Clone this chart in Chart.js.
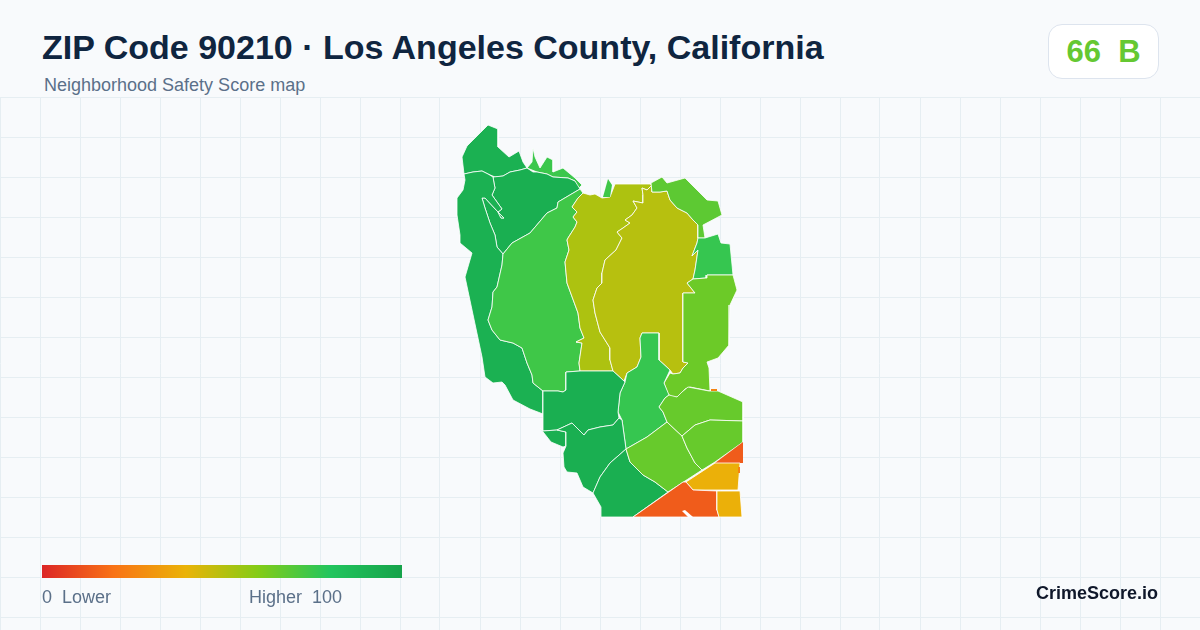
<!DOCTYPE html>
<html>
<head>
<meta charset="utf-8">
<title>ZIP Code 90210</title>
<script src="https://cdn.jsdelivr.net/npm/chart.js@4"></script>
<style>
html, body { margin: 0; padding: 0; }
body { width: 1200px; height: 630px; overflow: hidden; position: relative; background: #f8fafc; font-family: "Liberation Sans", Arial, sans-serif; }
#map-wrap { position: absolute; left: 0; top: 97px; width: 1200px; height: 533px; }
#title { position: absolute; left: 42px; top: 27px; font-size: 34px; line-height: 40px; font-weight: bold; color: #0f2540; white-space: pre; }
#subtitle { position: absolute; left: 44px; top: 75px; font-size: 18px; line-height: 20px; color: #5b7089; white-space: pre; }
#badge { position: absolute; left: 1048px; top: 24px; width: 109px; height: 53px; background: #fff; border: 1px solid #dde4ee; border-radius: 14px; text-align: center; font-size: 31px; line-height: 53px; font-weight: bold; color: #65c832; white-space: pre; }
#legend-bar { position: absolute; left: 42px; top: 565px; width: 360px; height: 13px; }
.legend-label { position: absolute; top: 587px; font-size: 18px; line-height: 20px; color: #5b7089; white-space: pre; }
#brand { position: absolute; right: 42px; top: 583px; font-size: 18px; line-height: 20px; font-weight: bold; color: #0f172a; }
</style>
</head>
<body>
<div id="map-wrap"><canvas id="map" width="1200" height="533"></canvas></div>
<div id="title"></div>
<div id="subtitle"></div>
<div id="badge"></div>
<div id="legend-bar"></div>
<div class="legend-label" id="legend-low" style="left:42px"></div>
<div class="legend-label" id="legend-high" style="left:249px"></div>
<div id="brand"></div>
<script>
const titleText = "ZIP Code 90210 · Los Angeles County, California";
const subtitleText = "Neighborhood Safety Score map";
const badgeText = "66  B";
const lowText = "0  Lower";
const highText = "Higher  100";
const brandText = "CrimeScore.io";

// score colour ramp, same stops as the legend bar
const rampStops = [0, 20, 40, 60, 80, 100];
const rampColors = ["#dc2626", "#f97316", "#eab308", "#84cc16", "#22c55e", "#16a34a"];

const gridX = [];
for (let x = 0; x <= 1200; x += 40) gridX.push(x);
const gridY = [];
for (let y = 97; y <= 630; y += 40) gridY.push(y);

// zone outlines in map units
const northTop = [[488,125],[498,129],[498,147],[509,157],[519,151],[523,162],[527,168],[520,170],[510,172],[503,176],[495,177],[488,174],[482,171],[473,172],[464,174],[462,157],[467,146],[473,140],[488,125]];
const northStrip = [[533,148],[535,157],[540,168],[547,157],[553,160],[553,172],[563,168],[575,178],[582,185],[578,189],[575,181],[568,178],[553,177],[547,174],[537,172],[527,168],[532,162],[533,148]];
const canyonEast = [[493,177],[503,176],[510,172],[520,170],[527,168],[533,172],[537,172],[547,174],[553,177],[568,178],[575,181],[580,189],[558,202],[557,208],[547,213],[530,233],[512,243],[503,254],[497,247],[495,235],[490,223],[485,208],[482,198],[485,198],[498,212],[504,218],[501,218],[498,212],[502,209],[497,202],[492,195],[495,188],[494,183],[493,177]];
const coastWest = [[464,174],[473,172],[482,171],[488,174],[493,177],[494,183],[495,188],[492,195],[497,202],[502,209],[498,212],[501,218],[504,218],[498,212],[485,198],[482,198],[485,208],[490,223],[495,235],[497,247],[503,254],[502,265],[497,287],[493,292],[492,307],[488,320],[492,330],[500,340],[513,343],[522,348],[527,363],[532,375],[533,383],[543,391],[543,414],[530,409],[513,400],[505,385],[502,382],[493,383],[485,377],[482,357],[465,277],[472,253],[460,243],[460,235],[457,215],[457,198],[463,190],[465,180],[464,174]];
const centralWest = [[580,189],[583,193],[578,198],[572,207],[577,212],[573,217],[577,222],[575,227],[568,238],[567,240],[569,250],[565,262],[567,283],[578,313],[580,328],[584,338],[576,342],[582,343],[579,363],[580,371],[566,372],[566,390],[563,392],[558,391],[543,391],[533,383],[532,375],[527,363],[522,348],[513,343],[500,340],[492,330],[488,320],[492,307],[493,292],[497,287],[502,265],[503,254],[512,243],[530,233],[547,213],[557,208],[558,202],[580,189]];
const canyonStrip = [[583,193],[590,195],[595,194],[602,198],[610,197],[615,184],[650,184],[652,185],[647,190],[642,188],[643,195],[643,203],[633,201],[637,208],[632,215],[625,220],[630,223],[623,228],[617,232],[622,238],[616,250],[605,260],[602,273],[602,283],[597,288],[593,300],[595,313],[600,332],[610,348],[610,360],[613,371],[580,371],[579,363],[582,343],[576,342],[584,338],[580,328],[578,313],[567,283],[565,262],[569,250],[567,240],[568,238],[575,227],[577,222],[573,217],[577,212],[572,207],[578,198],[583,193]];
const hillsOlive = [[652,185],[652,192],[660,192],[667,191],[670,200],[677,208],[687,213],[693,220],[698,225],[698,238],[697,243],[692,256],[698,250],[695,270],[693,279],[687,283],[695,293],[683,293],[683,362],[688,363],[683,368],[680,373],[673,374],[670,370],[659,360],[659,333],[642,333],[640,338],[641,357],[637,367],[627,373],[624,381],[613,371],[610,360],[610,348],[600,332],[595,313],[593,300],[597,288],[602,283],[602,273],[605,260],[616,250],[622,238],[617,232],[623,228],[630,223],[625,220],[632,215],[637,208],[633,201],[643,203],[643,195],[642,188],[647,190],[652,185]];
const ridgeNorth = [[651,183],[662,177],[667,183],[685,178],[707,200],[718,201],[722,215],[703,225],[705,238],[698,238],[698,225],[693,220],[687,213],[677,208],[670,200],[667,191],[660,192],[652,192],[651,183]];
const sliverTop = [[603,197],[608,179],[612,185],[610,197],[603,197]];
const ridgeEast = [[698,238],[705,238],[718,234],[721,243],[730,244],[733,275],[707,275],[706,278],[693,279],[695,270],[698,250],[692,256],[697,243],[698,238]];
const flatsEast = [[693,279],[706,278],[707,275],[733,275],[737,290],[730,305],[729,345],[718,358],[707,362],[709,368],[710,391],[690,387],[685,389],[678,397],[672,397],[668,394],[664,383],[670,373],[673,374],[680,373],[683,368],[688,363],[683,362],[683,293],[695,293],[687,283],[693,279]];
const centralTall = [[642,333],[659,333],[659,360],[670,370],[664,383],[669,395],[665,398],[659,407],[663,412],[667,422],[647,437],[626,449],[622,420],[618,412],[620,393],[625,382],[627,373],[637,367],[641,357],[640,338],[642,333]];
const blockMid = [[566,372],[580,371],[613,371],[624,381],[625,382],[620,393],[618,412],[619,418],[613,425],[600,427],[588,430],[584,435],[572,423],[557,430],[543,431],[543,391],[558,391],[563,392],[566,390],[566,372]];
const coastTip = [[540,428],[543,431],[557,430],[566,432],[566,446],[563,447],[551,442],[540,428]];
const coastLower = [[557,430],[572,423],[584,435],[588,430],[600,427],[613,425],[619,418],[622,420],[626,449],[610,463],[600,477],[593,493],[583,487],[577,473],[567,472],[564,467],[563,453],[566,446],[566,432],[557,430]];
const southDark = [[626,449],[630,462],[643,475],[655,482],[668,492],[633,517],[601,517],[601,507],[593,493],[600,477],[610,463],[626,449]];
const southLime = [[626,449],[647,437],[667,422],[682,436],[687,448],[695,463],[702,470],[668,492],[655,482],[643,475],[630,462],[626,449]];
const eastUpper = [[669,395],[677,397],[682,392],[688,387],[709,391],[718,391],[743,402],[743,421],[710,420],[695,425],[682,436],[667,422],[663,412],[659,407],[665,398],[669,395]];
const eastLower = [[682,436],[695,425],[710,420],[743,421],[743,442],[715,462],[702,470],[695,463],[687,448],[682,436]];
const redCorner = [[743,442],[743,463],[715,463],[743,442]];
const yellowBlock = [[715,463],[740,463],[738,490],[693,490],[686,482],[715,463]];
const redLower = [[633,517],[683,482],[686,482],[693,490],[717,491],[717,510],[719,517],[633,517]];
const yellowLower = [[717,491],[740,491],[742,517],[719,517],[717,510],[717,491]];
const redFleck = [[711,389],[717,389],[717,391],[711,391],[711,389]];
const yellowFleck = [[738,467],[740,467],[740,473],[738,473],[738,467]];
const whiteNotch = [[682,511],[685,510],[693,517],[688,517],[682,511]];

const zoneShapes = [northTop, northStrip, canyonEast, coastWest, centralWest, canyonStrip, hillsOlive, ridgeNorth, sliverTop, ridgeEast, flatsEast, centralTall, blockMid, coastTip, coastLower, southDark, southLime, eastUpper, eastLower, redCorner, yellowBlock, redLower, yellowLower, redFleck, yellowFleck];
const zoneScores = [92, 75, 93, 92, 74, 52, 50, 68, 74, 76, 65, 76, 93, 93, 93, 93, 66, 66, 66, 14, 39, 14, 39, 25, 25];

function hexToRgb(hex){
    return [parseInt(hex.slice(1,3),16), parseInt(hex.slice(3,5),16), parseInt(hex.slice(5,7),16)];
}

function scoreColor(score){
    let i = 0;
    while (i < rampStops.length - 2 && score > rampStops[i+1]) i++;
    const t = (score - rampStops[i]) / (rampStops[i+1] - rampStops[i]);
    const a = hexToRgb(rampColors[i]);
    const b = hexToRgb(rampColors[i+1]);
    return `rgb(${a.map((v, k) => Math.round(v + (b[k] - v) * t)).join(",")})`;
}

function toPoints(shape){
    return shape.map(p => ({x: p[0], y: p[1]}));
}

document.getElementById("title").textContent = titleText;
document.getElementById("subtitle").textContent = subtitleText;
document.getElementById("badge").textContent = badgeText;
document.getElementById("legend-low").textContent = lowText;
document.getElementById("legend-high").textContent = highText;
document.getElementById("brand").textContent = brandText;
document.getElementById("legend-bar").style.background =
    "linear-gradient(to right," + rampColors.map((c, i) => c + " " + rampStops[i] + "%").join(",") + ")";

const datasets = zoneShapes.map((shape, i) => ({
    data: toPoints(shape),
    showLine: true,
    fill: "shape",
    tension: 0,
    pointRadius: 0,
    pointHoverRadius: 0,
    backgroundColor: scoreColor(zoneScores[i]),
    borderColor: shape.length > 5 ? "#ffffff" : scoreColor(zoneScores[i]),
    borderWidth: shape.length > 5 ? 0.8 : 0,
    borderJoinStyle: "round",
    order: zoneShapes.length - i
}));
datasets.push({
    data: toPoints(whiteNotch),
    showLine: true,
    fill: "shape",
    tension: 0,
    pointRadius: 0,
    backgroundColor: "#ffffff",
    borderColor: "#ffffff",
    borderWidth: 0,
    order: 0
});

new Chart(document.getElementById("map"), {
    type: "scatter",
    data: { datasets: datasets },
    options: {
        responsive: false,
        animation: false,
        layout: { padding: 0 },
        plugins: { legend: { display: false }, tooltip: { enabled: false } },
        scales: {
            x: {
                type: "linear", min: 0, max: 1200,
                border: { display: false },
                grid: { color: "#e6eef2", lineWidth: 1, drawTicks: false },
                ticks: { display: false },
                afterBuildTicks: axis => { axis.ticks = gridX.map(v => ({value: v})); }
            },
            y: {
                type: "linear", min: 97, max: 630, reverse: true,
                border: { display: false },
                grid: { color: "#e6eef2", lineWidth: 1, drawTicks: false },
                ticks: { display: false },
                afterBuildTicks: axis => { axis.ticks = gridY.map(v => ({value: v})); }
            }
        }
    }
});
</script>
</body>
</html>
